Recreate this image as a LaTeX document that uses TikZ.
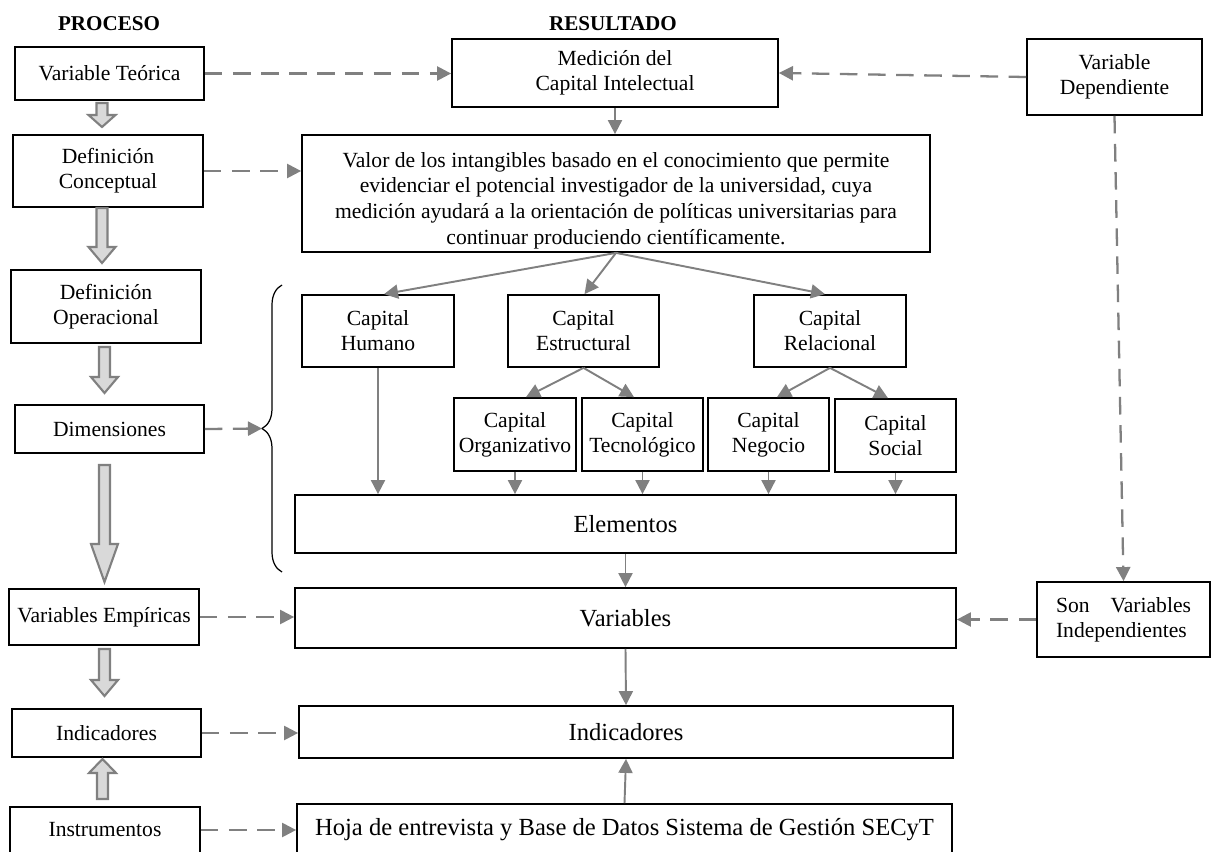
\documentclass[tikz,border=0pt]{standalone}
\usepackage{fontspec}
\setmainfont{Liberation Serif}
\usetikzlibrary{arrows.meta,decorations.pathreplacing,calc}
\definecolor{linegray}{HTML}{808080}
\definecolor{blkfill}{HTML}{D9D9D9}
% hollow block arrow: x, shaft end, head base, tip (all in px units)
\newcommand\bkarrow[4]{%
  \draw[blk] (#1-5.5,#2) -- (#1+5.5,#2) -- (#1+5.5,#3) -- (#1+13.5,#3)
    -- (#1,#4) -- (#1-13.5,#3) -- (#1-5.5,#3) -- cycle;}
\begin{document}
\begin{tikzpicture}[x=0.02cm,y=-0.02cm,
  font=\fontsize{12.3}{14.3}\selectfont,
  box/.style 2 args={draw=black,line width=1pt,inner sep=0pt,align=center,
    minimum width=#1*0.02cm,minimum height=#2*0.02cm},
  bigtxt/.style={font=\fontsize{14}{16}\selectfont},
  hdr/.style={font=\fontsize{12}{14}\selectfont\bfseries},
  link/.style={draw=linegray,line width=1.1pt,-{Triangle[length=8pt,width=8pt]}},
  dlink/.style={link,line width=1.3pt,dash pattern=on 10pt off 6pt},
  blk/.style={draw=linegray,fill=blkfill,line width=1.2pt,line join=miter}]
\useasboundingbox (0,0) rectangle (1211,852);
\clip (0,0) rectangle (1211,852);

% column headings
\node[hdr] (hp) at (109,24) {PROCESO};
\node[hdr] (hr) at (613,24) {RESULTADO};

% process column
\node[box={189}{53}] (vt) at (109.5,73.5) {Variable Teórica};
\node[box={190}{72}] (dc) at (108,171) {Definición\\Conceptual};
\node[box={190}{73}] (do) at (106,306.5) {Definición\\Operacional};
\node[box={189}{48}] (dim) at (109.5,429) {Dimensiones};
\node[box={190}{56}] (ve) at (104,617) {Variables Empíricas};
\node[box={189}{48}] (ind) at (106.5,733) {Indicadores};
\node[box={190}{46}] (ins) at (105,830) {Instrumentos};

\bkarrow{102}{103}{115}{127}
\bkarrow{102}{208}{247}{263}
\bkarrow{104.5}{347}{377}{393}
\bkarrow{104.5}{465}{544}{582}
\bkarrow{104.5}{649}{680}{696}
\bkarrow{102.5}{799}{773}{759}

% result column
\node[box={326}{68}] (me) at (615,73) {Medición del\\Capital Intelectual};
\node[box={628}{117},font=\fontsize{12.3}{14.6}\selectfont] (va) at (616,193.5)
  {\rule{0pt}{16.5pt}Valor de los intangibles basado en el conocimiento que permite\\
  evidenciar el potencial investigador de la universidad, cuya\\
  medición ayudará a la orientación de políticas universitarias para\\
  continuar produciendo científicamente.};
\node[box={152}{72}] (hu) at (378,331) {Capital\\Humano};
\node[box={151}{72}] (es) at (583.5,331) {Capital\\Estructural};
\node[box={152}{72}] (re) at (830,331) {Capital\\Relacional};
\node[box={122}{73}] (co) at (515,434.5) {Capital\\Organizativo};
\node[box={121}{73}] (te) at (642.5,434.5) {Capital\\Tecnológico};
\node[box={121}{73}] (ne) at (768.5,434.5) {Capital\\Negocio};
\node[box={121}{73}] (so) at (895.5,435.5) {Capital\\Social};
\node[box={661}{58},bigtxt] (el) at (625.5,524) {Elementos};
\node[box={661}{60},bigtxt] (vars) at (625.5,618) {Variables};
\node[box={654}{52},bigtxt] (ind2) at (626,732) {Indicadores};
\node[box={655}{52},bigtxt] (hoja) at (624.5,830) {Hoja de entrevista y Base de Datos Sistema de Gestión SECyT};

% variable type column
\node[box={175}{76}] (vd) at (1114.5,77) {Variable\\Dependiente};
\node[box={173}{75}] (sv) at (1123.5,619.5) {\parbox{2.7cm}{Son\hfill Variables\\Independientes}};

% brace grouping the dimensions
\draw[line width=0.7pt,decorate,decoration={brace,amplitude=0.4cm}] (282,572) -- (282,285);
\coordinate (bt) at (262,428.5);

% dashed links
\draw[dlink] (vt.east) -- (vt.east -| me.west);
\draw[dlink] (vd.west) -- (me.east);
\draw[dlink] (dc.east) -- (dc.east -| va.west);
\draw[dlink] (dim.east) -- (bt);
\draw[dlink] (ve.east) -- (ve.east -| vars.west);
\draw[dlink] (ind.east) -- (ind.east -| ind2.west);
\draw[dlink] (ins.east) -- (ins.east -| hoja.west);
\draw[dlink] (vd.south) -- (sv.north);
\draw[dlink] (sv.west) -- (sv.west -| vars.east);

% solid links
\draw[link] (me.south) -- (me.south |- va.north);
\draw[link] (va.south) -- ([xshift=0.12cm]hu.north);
\draw[link] (va.south) -- ([xshift=0.02cm]es.north);
\draw[link] (va.south) -- ([xshift=-0.1cm]re.north);
\draw[link] (es.south) -- ([xshift=0.22cm]co.north);
\draw[link] (es.south) -- ([xshift=-0.17cm]te.north);
\draw[link] (re.south) -- ([xshift=0.17cm]ne.north);
\draw[link] (re.south) -- ([xshift=-0.15cm]so.north);
\foreach \n in {hu,co,te,ne,so} \draw[link] (\n.south) -- (\n.south |- el.north);
\draw[link] (el.south) -- (vars.north);
\draw[link] (vars.south) -- (ind2.north);
\draw[link] (hoja.north) -- (ind2.south);
\end{tikzpicture}
\end{document}
